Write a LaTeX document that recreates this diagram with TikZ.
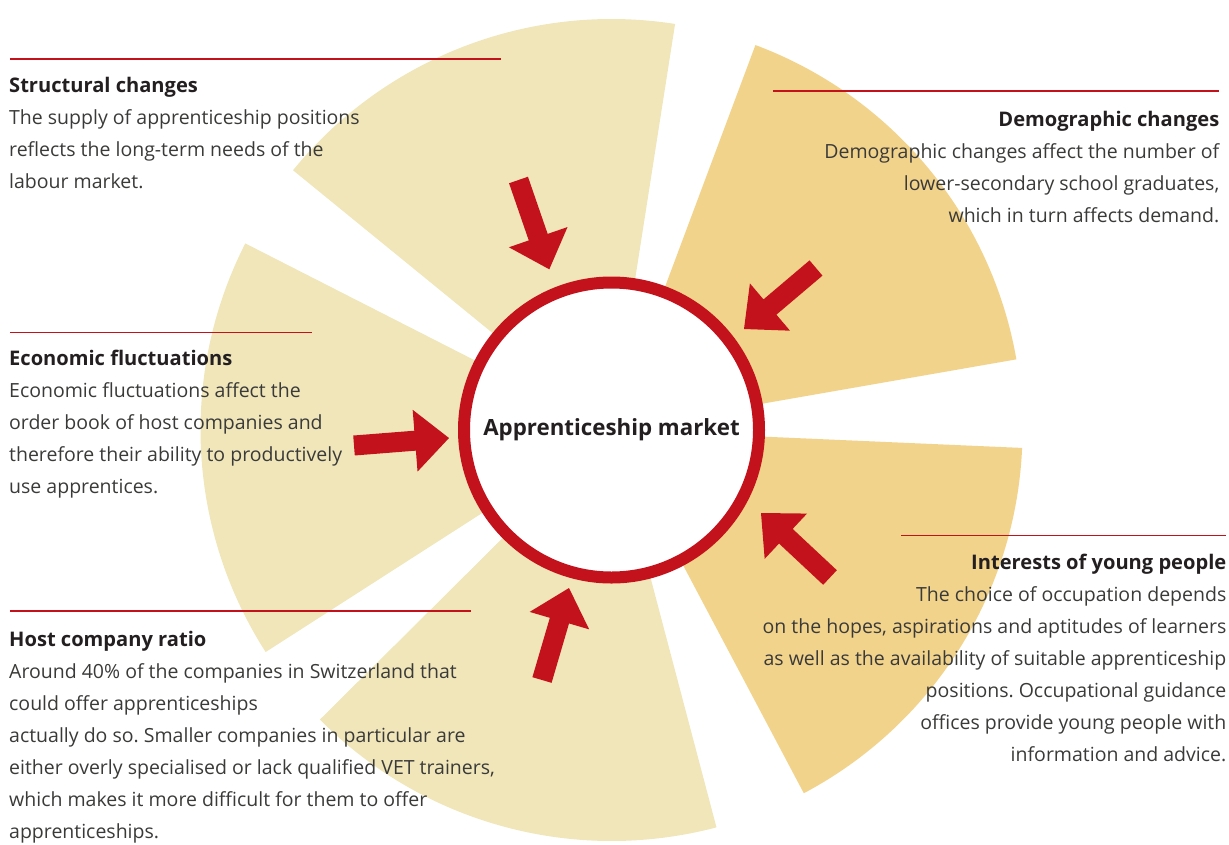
\documentclass[tikz,border=0pt]{standalone}
\usepackage{fontspec}
\setmainfont{Open Sans}
\usetikzlibrary{calc}

\definecolor{palesector}{RGB}{240,230,186}
\definecolor{warmsector}{RGB}{242,211,140}
\definecolor{arrowred}{RGB}{196,18,28}
\definecolor{bodytext}{RGB}{58,58,57}
\definecolor{headtext}{RGB}{35,31,32}

% block arrow from #1 (tail) to #2 (tip): shaft 20, head 62 wide, 34 long
\newcommand\blockarrow[2]{%
  \coordinate (hb) at ($(#2)!34pt!(#1)$);
  \fill[arrowred]
    ($(#1)!10pt!90:(#2)$) -- ($(hb)!10pt!-90:(#1)$) -- ($(hb)!31pt!-90:(#1)$)
    -- (#2)
    -- ($(hb)!31pt!90:(#1)$) -- ($(hb)!10pt!90:(#1)$) -- ($(#1)!10pt!-90:(#2)$) -- cycle;}

\newcommand\headline[1]{\strut{\fontsize{20.1}{32}\selectfont\bfseries\color{headtext}#1}}

\begin{document}
\frenchspacing
\begin{tikzpicture}[x=1pt,y=1pt,
  pale/.style={fill=palesector},
  warm/.style={fill=warmsector},
  rule/.style={draw=arrowred,line width=1.2pt},
  textblock/.style={inner sep=0pt,font=\fontsize{19.5}{32}\selectfont,text=bodytext},
  leftblock/.style={textblock,anchor=north west,align=left},
  rightblock/.style={textblock,anchor=north east,align=right},
  hub/.style={circle,draw=arrowred,line width=12pt,fill=white,minimum size=295pt,
    inner sep=0pt,text=headtext,font=\fontsize{22.3}{26}\selectfont\bfseries}]

\useasboundingbox (0,0) rectangle (1229,-844);
\coordinate (C) at (611.5,-430);

% fan of five sectors
\fill[pale] (C) -- ++(81.1:411)  arc[start angle=81.1, end angle=140.8, radius=411] -- cycle;
\fill[warm] (C) -- ++(9.9:411)   arc[start angle=9.9,  end angle=69.5,  radius=411] -- cycle;
\fill[warm] (C) -- ++(-62.1:411) arc[start angle=-62.1,end angle=-2.5,  radius=411] -- cycle;
\fill[pale] (C) -- ++(-135.2:411) arc[start angle=-135.2,end angle=-75.2,radius=411] -- cycle;
\fill[pale] (C) -- ++(153:411)   arc[start angle=153,  end angle=212.7, radius=411] -- cycle;

% central hub
\node[hub] (market) at (C) {\raisebox{-2pt}{Apprenticeship market}};

% arrows pointing at the hub
\coordinate (structTail) at (518.5,-180);   \coordinate (structTip) at (549.3,-269.3);
\coordinate (demoTail)   at (816,-268);     \coordinate (demoTip)   at (744,-329);
\coordinate (econTail)   at (354,-445.5);   \coordinate (econTip)   at (449,-438);
\coordinate (hostTail)   at (542,-680);     \coordinate (hostTip)   at (569,-588);
\coordinate (youthTail)  at (830,-577.5);   \coordinate (youthTip)  at (761,-513);
\blockarrow{structTail}{structTip}
\blockarrow{demoTail}{demoTip}
\blockarrow{econTail}{econTip}
\blockarrow{hostTail}{hostTip}
\blockarrow{youthTail}{youthTip}

% rules above the text blocks
\draw[rule] (10,-59) -- (501,-59);
\draw[rule] (773,-91) -- (1219.3,-91);
\draw[rule] (10,-332.5) -- (312,-332.5);
\draw[rule] (901,-535.7) -- (1226,-535.7);
\draw[rule] (10,-611) -- (471,-611);

% text blocks
\node[leftblock] (structural) at (9,-69.9) {\headline{Structural changes}\\
The supply of apprenticeship positions\\
reflects the long-term needs of the\\
labour market.};

\node[rightblock] (demographic) at (1219.5,-104.3) {\headline{Demographic changes}\\
Demographic changes affect the number of\\
lower-secondary school graduates,\\
which in turn affects demand.};

\node[leftblock] (economic) at (9,-343.2) {\headline{Economic fluctuations}\\
Economic fluctuations affect the\\
order book of host companies and\\
therefore their ability to productively\\
use apprentices.};

\node[rightblock] (interests) at (1226.5,-546.9) {\headline{Interests of young people}\\
The choice of occupation depends\\
on the hopes, aspirations and aptitudes of learners\\
as well as the availability of suitable apprenticeship\\
positions. Occupational guidance\\
offices provide young people with\\
information and advice.};

\node[leftblock] (host) at (9,-624.3) {\headline{Host company ratio}\\
Around 40\% of the companies in Switzerland that\\
could offer apprenticeships\\
actually do so. Smaller companies in particular are\\
either overly specialised or lack qualified VET trainers,\\
which makes it more difficult for them to offer\\
apprenticeships.};
\end{tikzpicture}
\end{document}
